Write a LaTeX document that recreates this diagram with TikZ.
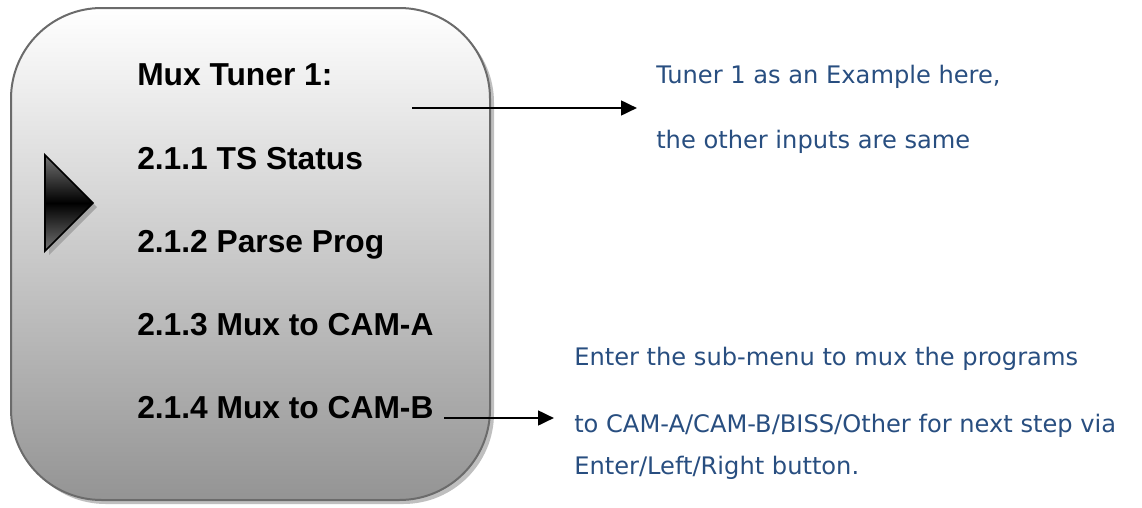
\documentclass[tikz,border=0pt]{standalone}
\usepackage{fontspec}
\setmainfont{Liberation Sans}
\newfontfamily\notefont{DejaVu Sans}
\usetikzlibrary{arrows.meta}
\definecolor{noteblue}{RGB}{40,78,128}
\tikzset{
  menutext/.style={anchor=base west, inner sep=0pt, font=\fontsize{23.8}{27}\selectfont\bfseries},
  notetext/.style={anchor=base west, inner sep=0pt, text=noteblue, font=\notefont\fontsize{18.1}{21}\selectfont},
  pointer/.style={line width=2pt, -{Triangle[length=12pt,width=11pt]}},
}
\begin{document}
\begin{tikzpicture}[x=0.75pt,y=-0.75pt]
\useasboundingbox (0,0) rectangle (1142,507);
% shadow of panel
\fill[black!25, rounded corners=68pt] (15,12) rectangle (494,504);
% panel
\shade[top color=white, bottom color=black!42, draw=black!58, line width=1.5pt, rounded corners=68pt] (11,8) rectangle (490,500);
% triangle marker
\fill[black!35] (49,159) -- (97,207) -- (49,255) -- cycle;
\shade[top color=black!55, bottom color=black!55, middle color=black, draw=black, line width=1.3pt] (45,155) -- (93,203) -- (45,251) -- cycle;
% menu items
\node[menutext] (m0) at (137,85) {Mux Tuner 1:};
\node[menutext] (m1) at (137,169) {2.1.1 TS Status};
\node[menutext] (m2) at (137,252) {2.1.2 Parse Prog};
\node[menutext] (m3) at (137,335) {2.1.3 Mux to CAM-A};
\node[menutext] (m4) at (137,418) {2.1.4 Mux to CAM-B};
% notes
\node[notetext] (n1) at (656,83) {Tuner 1 as an Example here,};
\node[notetext] (n2) at (656,148) {the other inputs are same};
\node[notetext] (n3) at (574,365) {Enter the sub-menu to mux the programs};
\node[notetext] (n4) at (574,432) {to CAM-A/CAM-B/BISS/Other for next step via};
\node[notetext] (n5) at (574,474) {Enter/Left/Right button.};
% arrows
\coordinate (a1s) at (412,108);
\coordinate (a1e) at (637,108);
\coordinate (a2s) at (444,418);
\coordinate (a2e) at (554,418);
\draw[pointer] (a1s) -- (a1e);
\draw[pointer] (a2s) -- (a2e);
\end{tikzpicture}
\end{document}
